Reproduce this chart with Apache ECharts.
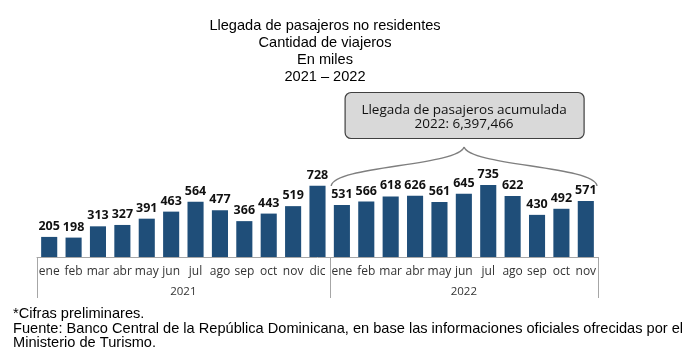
<!DOCTYPE html>
<html><head><meta charset="utf-8">
<script src="https://cdn.jsdelivr.net/npm/echarts@6/dist/echarts.min.js"></script>
<style>html,body{margin:0;padding:0;background:#fff}#c{width:698px;height:362px}</style>
</head><body><div id="c"></div>
<script>
const months2021 = ['ene','feb','mar','abr','may','jun','jul','ago','sep','oct','nov','dic'];
const months2022 = ['ene','feb','mar','abr','may','jun','jul','ago','sep','oct','nov'];
const values2021 = [205,198,313,327,391,463,564,477,366,443,519,728];
const values2022 = [531,566,618,626,561,645,735,622,430,492,571];
const years = ['2021','2022'];
const titleLines = ['Llegada de pasajeros no residentes','Cantidad de viajeros','En miles','2021 \u2013 2022'];
const boxLines = ['Llegada de pasajeros acumulada','2022: 6,397,466'];
const notes = ['*Cifras preliminares.','Fuente: Banco Central de la Rep\u00fablica Dominicana, en base las informaciones oficiales ofrecidas por el','Ministerio de Turismo.'];

const categories = months2021.concat(months2022);
const values = values2021.concat(values2022);

const chart = echarts.init(document.getElementById('c'), null, {renderer:'canvas'});
const option = {
  animation:false,
  grid:{left:37,right:100,top:159,bottom:105,containLabel:false},
  xAxis:{type:'category',data:categories,
    axisLine:{lineStyle:{color:'#a6a6a6',width:1}},
    axisTick:{show:false},
    axisLabel:{interval:0,color:'#333',fontFamily:'Open Sans',fontSize:12,margin:9}},
  yAxis:{type:'value',min:0,max:1000,show:false,splitLine:{show:false}},
  series:[{type:'bar',data:values,barWidth:'66%',
    itemStyle:{color:'#1f4e79'},
    label:{show:true,position:'top',distance:4,color:'#111',fontFamily:'Open Sans',fontWeight:'bold',fontSize:12.5}}]
};
chart.setOption(option);

const c0 = chart.convertToPixel({xAxisIndex:0},0);
const c1 = chart.convertToPixel({xAxisIndex:0},1);
const band = c1-c0;
const xL = c0 - band/2;
const xMid = chart.convertToPixel({xAxisIndex:0},months2021.length) - band/2;
const xR = chart.convertToPixel({xAxisIndex:0},categories.length-1) + band/2;
const yAxisPx = chart.convertToPixel({yAxisIndex:0},0);

const g = [];
[xL,xMid,xR].forEach(x=>{
  g.push({type:'line',shape:{x1:Math.round(x)+0.5,y1:yAxisPx,x2:Math.round(x)+0.5,y2:yAxisPx+41},style:{stroke:'#a6a6a6',lineWidth:1},silent:true});
});
g.push({type:'text',x:(xL+xMid)/2,y:yAxisPx+35,style:{text:years[0],fill:'#333',font:'11.5px "Open Sans"',textAlign:'center',textVerticalAlign:'middle'}});
g.push({type:'text',x:(xMid+xR)/2,y:yAxisPx+35,style:{text:years[1],fill:'#333',font:'11.5px "Open Sans"',textAlign:'center',textVerticalAlign:'middle'}});

titleLines.forEach((t,i)=>{
  g.push({type:'text',x:325,y:26+i*17,style:{text:t,fill:'#000',font:'14.6px "Liberation Sans", Arial',textAlign:'center',textVerticalAlign:'middle'}});
});

// brace
const bx0 = xMid+1.5, bx1 = xR-1, bm = (bx0+bx1)/2;
const by0 = 186, byTip = 147;
g.push({type:'bezierCurve',shape:{x1:bx0,y1:by0,cpx1:bx0+2,cpy1:by0-20,cpx2:bm-6,cpy2:by0-20,x2:bm,y2:byTip},
  style:{stroke:'#7f7f7f',lineWidth:1.4,fill:null},silent:true});
g.push({type:'bezierCurve',shape:{x1:bm,y1:byTip,cpx1:bm+6,cpy1:by0-20,cpx2:bx1-2,cpy2:by0-20,x2:bx1,y2:by0},
  style:{stroke:'#7f7f7f',lineWidth:1.4,fill:null},silent:true});

// box
const bw = 239, bh = 46;
g.push({type:'rect',shape:{x:bm-bw/2+0.5,y:92.5,width:bw,height:bh,r:6},style:{fill:'#d9d9d9',stroke:'#404040',lineWidth:1.2}});
boxLines.forEach((t,i)=>{
  g.push({type:'text',x:bm,y:110+i*14.5,style:{text:t,fill:'#111',font:'13.5px "Open Sans"',textAlign:'center',textVerticalAlign:'middle'}});
});

notes.forEach((t,i)=>{
  g.push({type:'text',x:13,y:314+i*14.6,style:{text:t,fill:'#000',font:'14.6px "Liberation Sans", Arial',textAlign:'left',textVerticalAlign:'middle'}});
});

chart.setOption({graphic:g});
</script></body></html>
